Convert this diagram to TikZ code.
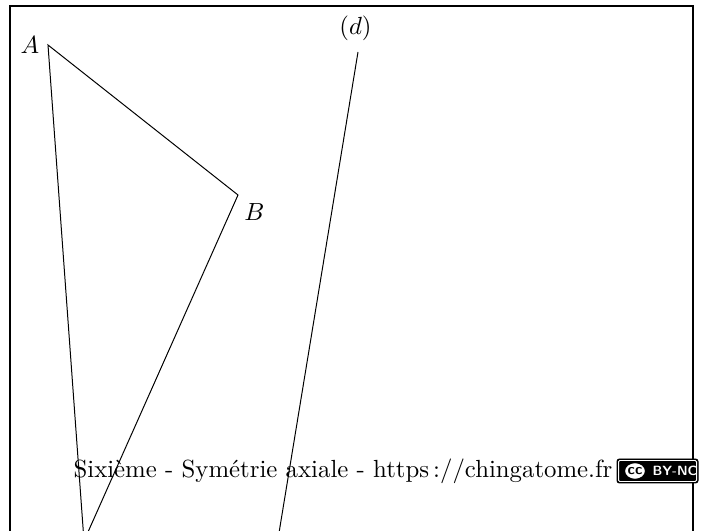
\documentclass[tikz,border=0pt]{standalone}
\usetikzlibrary{positioning,shapes.geometric}
\tikzset{
  pt/.style = {inner sep=0pt, minimum size=0pt},
  ccbox/.style = {fill=black, draw=black, rounded corners=1pt, inner sep=0pt},
}
\begin{document}
\begin{tikzpicture}[x=0.01418cm, y=-0.01418cm]
\useasboundingbox (0,0) rectangle (706,531);
% cadre
\draw[line width=0.6pt] (10,6) rectangle (693,600);

% triangle
\coordinate (A) at (48,45);
\coordinate (B) at (238,195);
\coordinate (C) at (84,541);
\draw (A) -- (B) -- (C) -- cycle;
\node[left] (lA) at (A) {$A$};
\node[below right=0pt and -1pt of B] (lB) {$B$};

% droite (d)
\coordinate (d1) at (358,52);
\coordinate (d2) at (277,545);
\draw (d1) -- (d2);
\node[above=1pt of d1, xshift=-1pt] (ld) {$(d)$};

% pied de page
\node (foot) at (343,471) {Sixi\`eme - Sym\'etrie axiale - https\,://chingatome.fr};
\draw[ccbox] (617,459) rectangle (698,483);
\draw[white, line width=0.4pt, rounded corners=0.5pt] (618.5,460.5) rectangle (696.5,481.5);
\node[ellipse, fill=white, draw=black, line width=0.8pt, minimum width=0.31cm,
      minimum height=0.25cm, inner sep=0pt,
      font=\sffamily\bfseries\fontsize{6}{7}\selectfont] (cc) at (635,471) {cc};
\node[anchor=west, text=white, inner sep=0pt,
      font=\sffamily\bfseries\fontsize{5.4}{6}\selectfont] (bync) at (652,471) {BY-NC};
\end{tikzpicture}
\end{document}
